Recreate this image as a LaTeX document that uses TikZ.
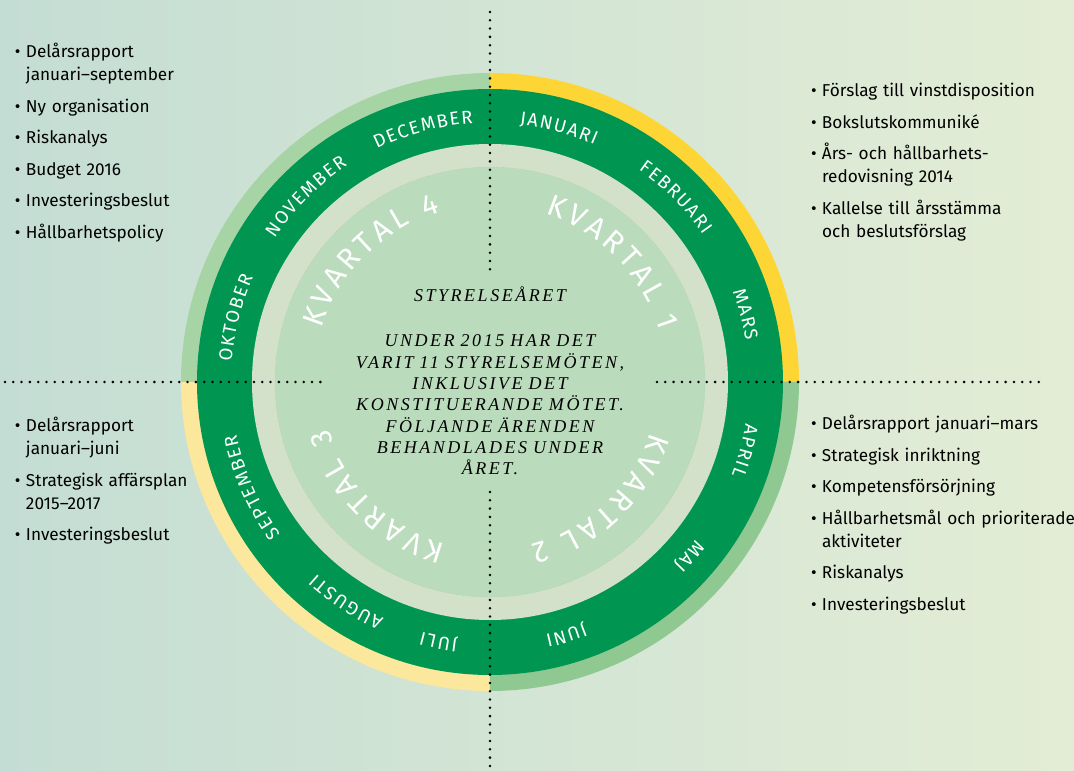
\documentclass[tikz,border=0pt]{standalone}
\usepackage{fontspec}
\setmainfont{Fira Sans}
\newfontfamily\listfont[Ligatures=TeX]{Fira Sans}
\newfontfamily\monthfont{Fira Sans}
\newfontfamily\kvfont{Fira Sans}
\newfontfamily\midfont[LetterSpace=14]{Liberation Serif}
\usetikzlibrary{decorations.text}

\definecolor{bgleft}{HTML}{C4DDD4}
\definecolor{bgright}{HTML}{E3EDD5}
\definecolor{ringyellow}{HTML}{FDD636}
\definecolor{ringpale}{HTML}{FBE89C}
\definecolor{ringlight}{HTML}{A7D4A5}
\definecolor{ringmid}{HTML}{8FC891}
\definecolor{darkgreen}{HTML}{009652}
\definecolor{palering}{HTML}{D3E0CA}
\definecolor{innerfill}{HTML}{BADBBC}
\definecolor{innerdot}{HTML}{8BC59A}

% one bullet point
\newcommand{\pkt}[1]{\hangindent=11pt\hangafter=1\noindent\makebox[11pt][l]{\textbullet}#1\par}

\begin{document}
\begin{tikzpicture}[x=1pt,y=1pt]
\tikzset{ inner sep=0pt, outer sep=0pt,
  dots/.style={line width=2.8, dash pattern=on 0pt off 8.3pt, line cap=round},
  month/.style={decorate, decoration={text along path, text align=center,
      text color=white, text={|\monthfont\fontsize{18.5}{18.5}\selectfont\kern1.6pt|#1}}},
  kvartal/.style={decorate, decoration={text along path, text align=center,
      text color=white, text={|\kvfont\fontsize{30}{30}\selectfont\kern4pt|#1}}},
  lista/.style={anchor=base west, text width=300,
      font=\listfont\fontsize{17.2}{23}\selectfont},
}

\useasboundingbox (-490,-389) rectangle (584,382);
\shade[left color=bgleft, right color=bgright] (-490,-389) rectangle (584,382);

% outer ring, one colour per quarter
\fill[ringyellow] (0,0) -- (0:309) arc[start angle=0, end angle=90, radius=309] -- cycle;
\fill[ringlight]  (0,0) -- (90:309) arc[start angle=90, end angle=180, radius=309] -- cycle;
\fill[ringpale]   (0,0) -- (180:309) arc[start angle=180, end angle=270, radius=309] -- cycle;
\fill[ringmid]    (0,0) -- (270:309) arc[start angle=270, end angle=360, radius=309] -- cycle;

\fill[darkgreen] (0,0) circle[radius=293];
\fill[palering]  (0,0) circle[radius=238];
\fill[innerfill] (0,0) circle[radius=215];
\draw[innerdot, dotted] (0,0) circle[radius=215];

% axes
\coordinate (dotN)  at (0,370);
\coordinate (dotNi) at (0,108);
\coordinate (dotSi) at (0,-110);
\coordinate (dotS)  at (0,-392);
\coordinate (dotW)  at (-485,0);
\coordinate (dotWi) at (-162,0);
\coordinate (dotEi) at (167,0);
\coordinate (dotE)  at (555,0);
\draw[dots] (dotN) -- (dotNi);
\draw[dots] (dotSi) -- (dotS);
\draw[dots] (dotW) -- (dotWi);
\draw[dots] (dotEi) -- (dotE);

% months
\path[month=JANUARI]   (100:259) arc[start angle=100, end angle=50, radius=259];
\path[month=FEBRUARI]  (70:259) arc[start angle=70, end angle=20, radius=259];
\path[month=MARS]      (40:259) arc[start angle=40, end angle=-10, radius=259];
\path[month=APRIL]     (10:259) arc[start angle=10, end angle=-40, radius=259];
\path[month=MAJ]       (-16:259) arc[start angle=-16, end angle=-66, radius=259];
\path[month=JUNI]      (-48:259) arc[start angle=-48, end angle=-98, radius=259];
\path[month=JULI]      (-76:259) arc[start angle=-76, end angle=-126, radius=259];
\path[month=AUGUSTI]   (-98:259) arc[start angle=-98, end angle=-148, radius=259];
\path[month=SEPTEMBER] (-131:259) arc[start angle=-131, end angle=-181, radius=259];
\path[month=OKTOBER]   (191:259) arc[start angle=191, end angle=141, radius=259];
\path[month=NOVEMBER]  (160:259) arc[start angle=160, end angle=110, radius=259];
\path[month=DECEMBER]  (130:259) arc[start angle=130, end angle=80, radius=259];

% quarters
\path[kvartal={KVARTAL 1}] (90:177) arc[start angle=90, end angle=0, radius=177];
\path[kvartal={KVARTAL 2}] (-1:168) arc[start angle=-1, end angle=-91, radius=168];
\path[kvartal={KVARTAL 3}] (-89:168) arc[start angle=-89, end angle=-179, radius=168];
\path[kvartal={KVARTAL 4}] (180:177) arc[start angle=180, end angle=90, radius=177];

% centre text
\node[anchor=base, font=\midfont\itshape\fontsize{18}{21.3}\selectfont] (titel) at (0,80) {STYRELSEÅRET};
\node[anchor=base, text width=340, align=center, font=\midfont\itshape\fontsize{18}{21.3}\selectfont] (text) at (0,35)
  {UNDER 2015 HAR DET\\ VARIT 11 STYRELSEMÖTEN,\\ INKLUSIVE DET\\ KONSTITUERANDE MÖTET.\\
   FÖLJANDE ÄRENDEN\\ BEHANDLADES UNDER\\ ÅRET.};

% lists
\node[lista] (q4) at (-475,324) {\setlength{\parskip}{8.5pt}%
  \pkt{Delårsrapport\newline januari–september}
  \pkt{Ny organisation}
  \pkt{Riskanalys}
  \pkt{Budget 2016}
  \pkt{Investeringsbeslut}
  \pkt{Hållbarhetspolicy}};
\node[lista] (q1) at (321,285) {\setlength{\parskip}{8.5pt}%
  \pkt{Förslag till vinstdisposition}
  \pkt{Bokslutskommuniké}
  \pkt{Års- och hållbarhets-\newline redovisning 2014}
  \pkt{Kallelse till årsstämma\newline och beslutsförslag}};
\node[lista] (q2) at (321,-48) {\setlength{\parskip}{8.5pt}%
  \pkt{Delårsrapport januari–mars}
  \pkt{Strategisk inriktning}
  \pkt{Kompetensförsörjning}
  \pkt{Hållbarhetsmål och prioriterade\newline aktiviteter}
  \pkt{Riskanalys}
  \pkt{Investeringsbeslut}};
\node[lista] (q3) at (-475,-50) {\setlength{\parskip}{8.5pt}%
  \pkt{Delårsrapport\newline januari–juni}
  \pkt{Strategisk affärsplan\newline 2015–2017}
  \pkt{Investeringsbeslut}};

\end{tikzpicture}
\end{document}
